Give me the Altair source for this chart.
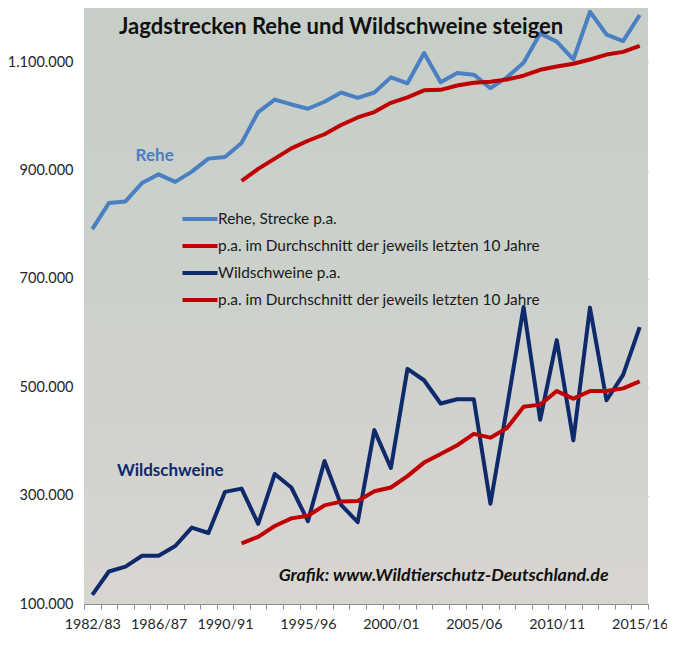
import altair as alt
import pandas as pd

seasons = ["1982/83", "1983/84", "1984/85", "1985/86", "1986/87", "1987/88", "1988/89",
           "1989/90", "1990/91", "1991/92", "1992/93", "1993/94", "1994/95", "1995/96",
           "1996/97", "1997/98", "1998/99", "1999/00", "2000/01", "2001/02", "2002/03",
           "2003/04", "2004/05", "2005/06", "2006/07", "2007/08", "2008/09", "2009/10",
           "2010/11", "2011/12", "2012/13", "2013/14", "2014/15", "2015/16"]
shown_labels = ["1982/83", "1986/87", "1990/91", "1995/96", "2000/01", "2005/06", "2010/11", "2015/16"]

rehe = [792000, 840000, 843000, 877000, 893000, 879000, 898000, 922000, 925000, 951000,
        1008000, 1031000, 1022000, 1014000, 1027000, 1044000, 1034000, 1044000, 1072000, 1061000,
        1117000, 1063000, 1080000, 1077000, 1052000, 1072000, 1099000, 1153000, 1138000, 1105000,
        1193000, 1151000, 1139000, 1187000]
rehe_avg10 = [None] * 9 + [881000, 903000, 922000, 941000, 955000, 967000, 984000, 998000, 1008000,
                           1025000, 1035000, 1048000, 1049000, 1057000, 1062000, 1064000, 1068000,
                           1075000, 1086000, 1092000, 1097000, 1105000, 1114000, 1119000, 1130000]
wild = [117000, 160000, 169000, 189000, 189000, 207000, 241000, 231000, 307000, 313000,
        248000, 340000, 315000, 253000, 364000, 283000, 251000, 421000, 351000, 534000,
        513000, 470000, 478000, 478000, 285000, 463000, 648000, 440000, 587000, 402000,
        647000, 476000, 523000, 611000]
wild_avg10 = [None] * 9 + [212000, 224000, 244000, 258000, 263000, 282000, 289000, 290000, 308000,
                           315000, 336000, 361000, 377000, 393000, 414000, 407000, 425000,
                           464000, 468000, 493000, 479000, 493000, 493000, 498000, 511000]

series_names = ["Rehe, Strecke p.a.",
                "p.a. im Durchschnitt der jeweils letzten 10 Jahre",
                "Wildschweine p.a.",
                "p.a. im Durchschnitt der jeweils letzten 10 Jahre "]
series_colors = ["#4A7FC1", "#C00000", "#0E2A6B", "#C00000"]
series_values = [rehe, rehe_avg10, wild, wild_avg10]
y_ticks = [100000, 300000, 500000, 700000, 900000, 1100000]

rows = []
for name, vals in zip(series_names, series_values):
    for s, v in zip(seasons, vals):
        if v is not None:
            rows.append({"season": s, "value": v, "series": name})
df = pd.DataFrame(rows)

FONT = "Lato"
W, H = 564, 596

x_enc = alt.X(
    "season:O",
    scale=alt.Scale(domain=seasons, type="band", paddingInner=0, paddingOuter=0),
    axis=alt.Axis(
        title=None, labelAngle=0, tickBand="extent", labelOverlap=False,
        labelExpr="indexof(" + str(shown_labels) + ", datum.value) >= 0 ? datum.value : ''",
        domainColor="#8c8c8c", tickColor="#8c8c8c", tickSize=5, grid=False,
        labelFont=FONT, labelFontSize=14.3, labelColor="#262626", labelPadding=8,
    ),
)
y_enc = alt.Y(
    "value:Q",
    scale=alt.Scale(domain=[100000, 1200000], nice=False, zero=False),
    axis=alt.Axis(
        title=None, values=y_ticks, domain=False, ticks=False,
        labelExpr="replace(format(datum.value, ',.0f'), regexp(',', 'g'), '.')",
        gridColor="#888888", gridWidth=1, labelPadding=11,
        labelFont=FONT, labelFontSize=14.5, labelColor="#262626",
    ),
)

bg = alt.LinearGradient(
    gradient="linear",
    stops=[alt.GradientStop(color="#c6cec7", offset=0),
           alt.GradientStop(color="#cbd0cb", offset=0.4),
           alt.GradientStop(color="#d2d2cf", offset=0.75),
           alt.GradientStop(color="#d9d6d1", offset=1)],
    x1=0, x2=0, y1=0, y2=1,
)
background = alt.Chart(pd.DataFrame({"k": [0]})).mark_rect(color=bg).encode(
    x=alt.value(0), x2=alt.value(W), y=alt.value(0), y2=alt.value(H)
)

lines = alt.Chart(df).mark_line(strokeWidth=4, strokeJoin="round").encode(
    x=x_enc,
    y=y_enc,
    color=alt.Color(
        "series:N",
        scale=alt.Scale(domain=series_names, range=series_colors),
        legend=alt.Legend(
            title=None, orient="none", legendX=108, legendY=203,
            symbolType="M-3,0H3", symbolSize=136, symbolStrokeWidth=4,
            labelOffset=10, rowPadding=10, padding=0, labelLimit=0,
            labelFont=FONT, labelFontSize=15.4, labelColor="#1a1a1a",
        ),
    ),
    detail="series:N",
)


def note(season, value, text, **style):
    d = pd.DataFrame({"season": [season], "value": [value], "text": [text]})
    return alt.Chart(d).mark_text(font=FONT, **style).encode(x=x_enc, y=y_enc, text="text:N")


title = note("1997/98", 1165000, "Jagdstrecken Rehe und Wildschweine steigen",
             fontSize=22, fontWeight="bold", color="#111111")
rehe_lbl = note("1986/87", 926000, "Rehe", fontSize=17, fontWeight="bold", color="#4A7FC1", dx=-4)
wild_lbl = note("1987/88", 346000, "Wildschweine", fontSize=17, fontWeight="bold", color="#0E2A6B", dx=-5)
credit = note("2003/04", 152000, "Grafik: www.Wildtierschutz-Deutschland.de",
              fontSize=17.8, fontWeight="bold", fontStyle="italic", color="#111111", dx=3)

chart = alt.layer(background, lines, title, rehe_lbl, wild_lbl, credit).properties(
    width=W, height=H,
    autosize=alt.AutoSizeParams(type="none"),
    padding={"left": 76, "top": 0, "right": 19, "bottom": 29},
).configure_view(stroke=None)

chart.save("out.html", embed_options={"renderer": "svg", "actions": False})
